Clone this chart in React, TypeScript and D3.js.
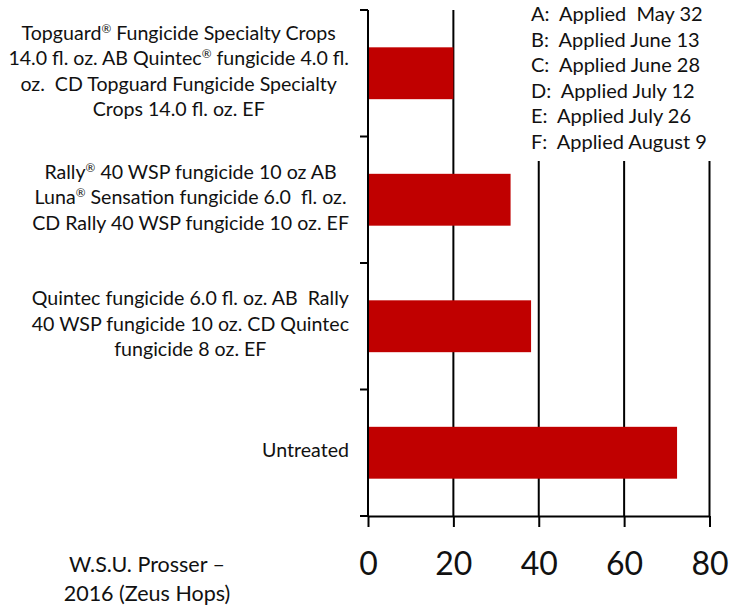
import React, { useEffect, useRef } from "react";
import * as d3 from "d3";

const categories: string[][] = [
  ["Topguard® Fungicide Specialty Crops", "14.0 fl. oz. AB Quintec® fungicide 4.0 fl.", "oz.  CD Topguard Fungicide Specialty", "Crops 14.0 fl. oz. EF"],
  ["Rally® 40 WSP fungicide 10 oz AB", "Luna® Sensation fungicide 6.0  fl. oz.", "CD Rally 40 WSP fungicide 10 oz. EF"],
  ["Quintec fungicide 6.0 fl. oz. AB  Rally", "40 WSP fungicide 10 oz. CD Quintec", "fungicide 8 oz. EF"],
  ["Untreated"],
];
const values: number[] = [20, 33.4, 38.2, 72.4];
const xTicks: number[] = [0, 20, 40, 60, 80];
const legendLines: string[] = [
  "A:  Applied  May 32",
  "B:  Applied June 13",
  "C:  Applied June 28",
  "D:  Applied July 12",
  "E:  Applied July 26",
  "F:  Applied August 9",
];
const footLines: string[] = ["W.S.U. Prosser –", "2016 (Zeus Hops)"];

const W = 730;
const H = 607;
const FONT = "Lato, 'Open Sans', sans-serif";

export default function App() {
  const ref = useRef<SVGSVGElement | null>(null);

  useEffect(() => {
    const svg = d3.select(ref.current!);
    svg.selectAll("*").remove();

    const left = 368;
    const right = 709.5;
    const top = 10;
    const bottom = 516;

    const x = d3.scaleLinear().domain([0, 80]).range([left, right]);
    const y = d3
      .scaleBand<number>()
      .domain(d3.range(categories.length))
      .range([top, bottom])
      .paddingInner(0.59)
      .paddingOuter(0.295);
    const band = d3.scaleBand<number>().domain(d3.range(categories.length)).range([top, bottom]);

    // gridlines
    svg
      .append("g")
      .selectAll("line")
      .data(xTicks.filter((t) => t > 0))
      .join("line")
      .attr("x1", (d) => x(d))
      .attr("x2", (d) => x(d))
      .attr("y1", top)
      .attr("y2", bottom)
      .attr("stroke", "#000")
      .attr("stroke-width", 2);

    // bars
    svg
      .append("g")
      .selectAll("rect")
      .data(values)
      .join("rect")
      .attr("x", x(0))
      .attr("y", (_, i) => y(i)!)
      .attr("width", (d) => x(d) - x(0))
      .attr("height", y.bandwidth())
      .attr("fill", "#C00000");

    // x axis
    const xAxis = svg.append("g").attr("transform", `translate(0,${bottom})`);
    xAxis.call(
      d3
        .axisBottom(x)
        .tickValues(xTicks)
        .tickSize(11)
        .tickSizeOuter(0)
        .tickFormat((d) => String(d))
    );
    xAxis.select(".domain").attr("stroke", "#000").attr("stroke-width", 2);
    xAxis.selectAll(".tick line").attr("stroke", "#000").attr("stroke-width", 2);
    xAxis
      .selectAll(".tick text")
      .attr("y", 59)
      .attr("dy", 0)
      .attr("font-family", FONT)
      .attr("font-size", 32)
      .attr("fill", "#111");

    // y axis (ticks at band boundaries)
    const yAxis = svg.append("g");
    yAxis
      .append("line")
      .attr("x1", left)
      .attr("x2", left)
      .attr("y1", top)
      .attr("y2", bottom)
      .attr("stroke", "#000")
      .attr("stroke-width", 2);
    const boundaries = [...d3.range(categories.length).map((i) => band(i)!), bottom];
    yAxis
      .selectAll("line.tk")
      .data(boundaries)
      .join("line")
      .attr("class", "tk")
      .attr("x1", left - 8)
      .attr("x2", left)
      .attr("y1", (d) => d)
      .attr("y2", (d) => d)
      .attr("stroke", "#000")
      .attr("stroke-width", 2);

    // helper: write text with superscript ®
    const writeRich = (sel: d3.Selection<SVGTextElement, string, any, any>) => {
      sel.each(function (d) {
        const t = d3.select(this);
        const parts = d.split("®");
        parts.forEach((p, k) => {
          if (p) t.append("tspan").text(p);
          if (k < parts.length - 1) {
            t.append("tspan")
              .attr("font-size", "0.6em")
              .attr("baseline-shift", "super")
              .text("®");
          }
        });
      });
    };

    // category labels
    const labelRight = 349;
    const lineH = 25.5;
    categories.forEach((lines, i) => {
      const g = svg.append("g");
      const cy = band(i)! + band.bandwidth() / 2 + 4.5;
      const texts = g
        .selectAll<SVGTextElement, string>("text")
        .data(lines)
        .join("text")
        .attr("font-family", FONT)
        .attr("font-size", 19.6)
        .attr("fill", "#111")
        .attr("text-anchor", "middle")
        .attr("xml:space", "preserve")
        .attr("y", (_, j) => cy + (j - (lines.length - 1) / 2) * lineH);
      writeRich(texts);
      let maxW = 0;
      texts.each(function () {
        maxW = Math.max(maxW, (this as SVGTextElement).getComputedTextLength());
      });
      texts.attr("x", labelRight - maxW / 2);
    });

    // legend box (covers gridlines)
    svg
      .append("rect")
      .attr("x", 522)
      .attr("y", 0)
      .attr("width", W - 522)
      .attr("height", 161)
      .attr("fill", "#fff");
    svg
      .append("g")
      .selectAll("text")
      .data(legendLines)
      .join("text")
      .attr("xml:space", "preserve")
      .attr("x", 531)
      .attr("y", (_, i) => 21 + i * 25.5)
      .attr("font-family", FONT)
      .attr("font-size", 20)
      .attr("fill", "#111")
      .text((d) => d);

    // footnote
    svg
      .append("g")
      .selectAll("text")
      .data(footLines)
      .join("text")
      .attr("x", 147)
      .attr("y", (_, i) => 572 + i * 28.5)
      .attr("text-anchor", "middle")
      .attr("font-family", FONT)
      .attr("font-size", 21.5)
      .attr("fill", "#111")
      .text((d) => d);
  }, []);

  return (
    <svg
      ref={ref}
      width={W}
      height={H}
      style={{ position: "absolute", left: 0, top: 0, background: "#fff" }}
    />
  );
}
